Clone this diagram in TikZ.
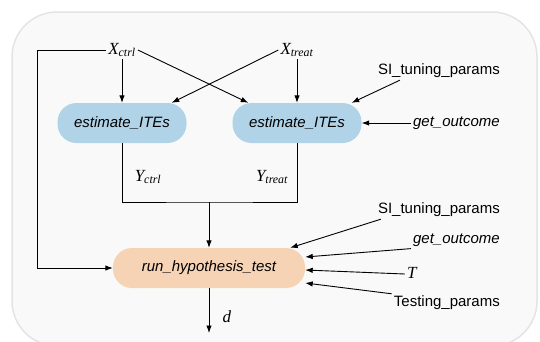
\documentclass[tikz,border=0pt]{standalone}
\usepackage{fontspec}
\setmainfont{Liberation Sans}
\newfontfamily\tms{Liberation Serif}
\usepackage{tikz}
\usetikzlibrary{arrows.meta}

\definecolor{estblue}{RGB}{177,211,231}
\definecolor{hypor}{RGB}{247,211,181}
\definecolor{bgfill}{RGB}{249,249,249}
\definecolor{bgline}{RGB}{228,228,228}

\newcommand{\vname}[2]{{\tms\itshape\fontsize{17}{20}\selectfont #1\textsubscript{#2}}}

\tikzset{
  lbl/.style={inner sep=2pt,font=\fontsize{15}{18}\selectfont},
  est/.style={rounded corners=19pt,fill=estblue,minimum width=129pt,minimum height=40pt,inner sep=0pt,font=\itshape\fontsize{15}{18}\selectfont},
  hyp/.style={rounded corners=19pt,fill=hypor,minimum width=192pt,minimum height=40pt,inner sep=0pt,font=\itshape\fontsize{15}{18}\selectfont},
  flow/.style={-{Latex[length=7.5pt,width=5.5pt]},line width=0.9pt},
}

\begin{document}
\begin{tikzpicture}[x=1pt,y=-1pt]
\useasboundingbox (0,0) rectangle (540,341);
\draw[bgline,fill=bgfill,line width=1.5pt,rounded corners=45pt] (12,12) rectangle (537,346);
\node[lbl] (xc) at (122,50) {\vname{X}{ctrl}};
\node[lbl] (xt) at (297,50) {\vname{X}{treat}};
\node[est] (e1) at (122,123) {estimate\_ITEs};
\node[est] (e2) at (297,123) {estimate\_ITEs};
\node[hyp] (h) at (209,268) {run\_hypothesis\_test};
\node[lbl,anchor=east] (si1) at (502,71) {SI\_tuning\_params};
\node[lbl,anchor=east] (go1) at (502,123) {\itshape get\_outcome};
\node[lbl,anchor=east] (si2) at (502,210) {SI\_tuning\_params};
\node[lbl,anchor=east] (go2) at (502,240) {\itshape get\_outcome};
\node[lbl] (t) at (412,274) {\vname{T}{}};
\node[lbl,anchor=east] (tp) at (502,303) {Testing\_params};
\node[lbl] (yc) at (148,177) {\vname{Y}{ctrl}};
\node[lbl] (yt) at (272,177) {\vname{Y}{treat}};
\node[lbl] (d) at (227,318) {\vname{d}{}};
\coordinate (join) at (209,202);
\coordinate (lc) at (37,268);
\coordinate (out) at (209,333);
% top half
\draw[flow] (xc) -- (e1);
\draw[flow] (xt) -- (e2);
\draw[flow] (xc.east) -- ([xshift=16pt]e2.north west);
\draw[flow] (xt.west) -- ([xshift=-15pt]e1.north east);
\draw[flow] ([xshift=24pt]si1.south west) -- ([xshift=-10pt]e2.north east);
\draw[flow] (go1.west) -- (e2.east);
% bottom half
\draw[line width=0.9pt] (e1.south) |- (join) -| (e2.south);
\draw[flow] (join) -- (h.north);
\draw[flow] (xc.west) -| (lc) -- (h.west);
\draw[flow] (h.south) -- (out);
\draw[flow] ([xshift=5pt]si2.south west) -- ([xshift=-15pt]h.north east);
\draw[flow] (go2.south west) -- ([yshift=11pt]h.east);
\draw[flow] (t.west) -- ([yshift=-2pt]h.east);
\draw[flow] (tp.north west) -- ([yshift=-15pt]h.east);
\end{tikzpicture}
\end{document}
